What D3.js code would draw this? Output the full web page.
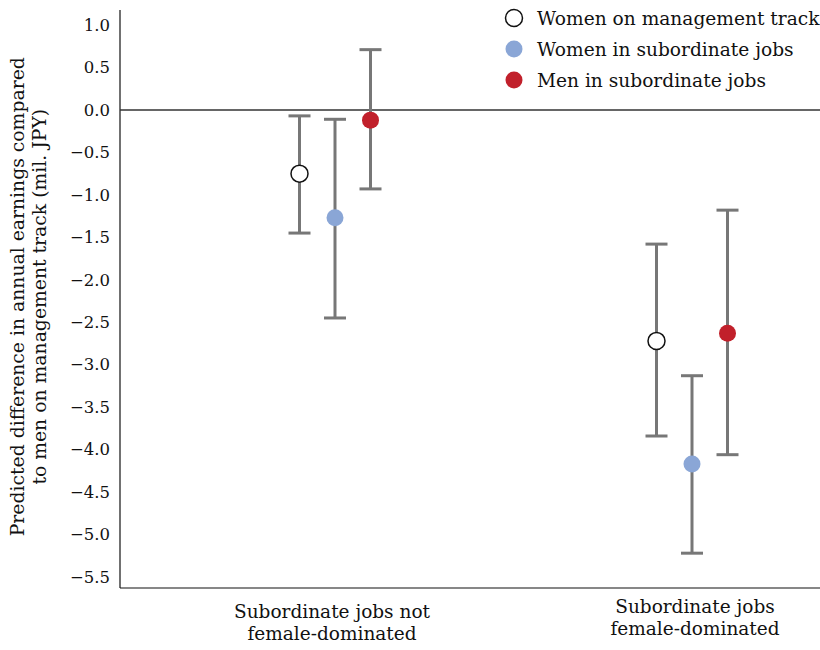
<!DOCTYPE html>
<html>
<head>
<meta charset="utf-8">
<script src="https://cdn.jsdelivr.net/npm/d3@7"></script>
<style>
  body { margin: 0; background: #fff; }
  text { font-family: "DejaVu Serif", serif; fill: #111; }
</style>
</head>
<body>
<svg id="chart"></svg>
<script>
// chart data
var groups = ['Subordinate jobs not\nfemale-dominated', 'Subordinate jobs\nfemale-dominated'];
var series = ['Women on management track', 'Women in subordinate jobs', 'Men in subordinate jobs'];
var estimate = [[-0.75, -1.27, -0.12], [-2.72, -4.17, -2.63]];
var upper = [[-0.07, -0.11, 0.71], [-1.58, -3.13, -1.18]];
var lower = [[-1.45, -2.45, -0.93], [-3.84, -5.22, -4.06]];
var yTicks = [1.0, 0.5, 0.0, -0.5, -1.0, -1.5, -2.0, -2.5, -3.0, -3.5, -4.0, -4.5, -5.0, -5.5];

function errorChart() {
    var svg = d3.select('#chart')
        .attr('width', 820)
        .attr('height', 650);

    var margin = {top: 10, right: 0, bottom: 62, left: 120},
        width = +svg.attr('width') - margin.left - margin.right,
        height = +svg.attr('height') - margin.top - margin.bottom;

    var canvas = svg.append('g')
        .attr('transform', 'translate(' + margin.left + ',' + margin.top + ')');

    //scales
    var y = d3.scaleLinear().domain([1.177, -5.63]).range([0, height]);
    var x = d3.scalePoint().domain(groups).range([215, 572]);
    var xs = d3.scalePoint().domain(series).range([-35.5, 35.5]);
    var fill = d3.scaleOrdinal().domain(series).range(['#fff', '#8aa6d6', '#c1202b']);
    var stroke = d3.scaleOrdinal().domain(series).range(['#111', 'none', 'none']);

    //y axis (labels only, no ticks)
    var yAxis = canvas.append('g')
        .call(d3.axisLeft(y).tickValues(yTicks).tickSize(0).tickPadding(10)
            .tickFormat(function(d) { return d3.format('.1f')(d).replace('-', '\u2212'); }));
    yAxis.select('.domain').remove();
    yAxis.selectAll('text')
        .style('font-family', '"DejaVu Serif", serif')
        .style('font-size', '16.5px')
        .attr('fill', '#111');

    //axis lines
    canvas.append('line').attr('x1', 0).attr('x2', 0).attr('y1', 0).attr('y2', height)
        .attr('stroke', '#111').attr('stroke-width', 1.2);
    canvas.append('line').attr('x1', 0).attr('x2', width).attr('y1', height).attr('y2', height)
        .attr('stroke', '#111').attr('stroke-width', 1.2);
    canvas.append('line').attr('x1', 0).attr('x2', width).attr('y1', y(0)).attr('y2', y(0))
        .attr('stroke', '#333').attr('stroke-width', 1.5);

    //flatten data
    var pts = [];
    groups.forEach(function(g, i) {
        series.forEach(function(s, j) {
            pts.push({group: g, series: s, est: estimate[i][j], hi: upper[i][j], lo: lower[i][j]});
        });
    });

    var pt = canvas.append('g').selectAll('g').data(pts).enter().append('g')
        .attr('transform', function(d) { return 'translate(' + (x(d.group) + xs(d.series)) + ',0)'; });

    pt.append('line')
        .attr('y1', function(d) { return y(d.hi); })
        .attr('y2', function(d) { return y(d.lo); })
        .attr('stroke', '#777').attr('stroke-width', 3);
    pt.append('line')
        .attr('x1', -11).attr('x2', 11)
        .attr('y1', function(d) { return y(d.hi); })
        .attr('y2', function(d) { return y(d.hi); })
        .attr('stroke', '#777').attr('stroke-width', 3);
    pt.append('line')
        .attr('x1', -11).attr('x2', 11)
        .attr('y1', function(d) { return y(d.lo); })
        .attr('y2', function(d) { return y(d.lo); })
        .attr('stroke', '#777').attr('stroke-width', 3);
    pt.append('circle')
        .attr('cy', function(d) { return y(d.est); })
        .attr('r', 8.5)
        .attr('fill', function(d) { return fill(d.series); })
        .attr('stroke', function(d) { return stroke(d.series); })
        .attr('stroke-width', 1.5);

    //group labels
    canvas.append('g').selectAll('text').data(groups).enter().append('text')
        .attr('text-anchor', 'middle')
        .attr('transform', function(d, i) { return 'translate(' + (x(d) + (i === 0 ? -3 : 3)) + ',' + (height + (i === 0 ? 30 : 25)) + ')'; })
        .style('font-size', '18.5px')
        .selectAll('tspan').data(function(d) { return d.split('\n'); }).enter().append('tspan')
        .attr('x', 0)
        .attr('dy', function(d, i) { return i === 0 ? 0 : 22; })
        .text(function(d) { return d; });

    //y axis title
    svg.append('text')
        .attr('text-anchor', 'middle')
        .attr('transform', 'translate(24,' + (margin.top + y(-2.2)) + ') rotate(-90)')
        .style('font-size', '18.8px')
        .selectAll('tspan').data(['Predicted difference in annual earnings compared', 'to men on management track (mil. JPY)'])
        .enter().append('tspan')
        .attr('x', 0)
        .attr('dy', function(d, i) { return i === 0 ? 0 : 22; })
        .text(function(d) { return d; });

    //legend
    var legend = svg.append('g').attr('transform', 'translate(514,18)');
    var item = legend.selectAll('g').data(series).enter().append('g')
        .attr('transform', function(d, i) { return 'translate(0,' + i * 31 + ')'; });
    item.append('circle')
        .attr('r', 8.5)
        .attr('fill', function(d) { return fill(d); })
        .attr('stroke', function(d) { return stroke(d); })
        .attr('stroke-width', 1.5);
    item.append('text')
        .attr('x', 23).attr('dy', '0.35em')
        .style('font-size', '18.6px')
        .text(function(d) { return d; });
}

errorChart();
</script>
</body>
</html>
